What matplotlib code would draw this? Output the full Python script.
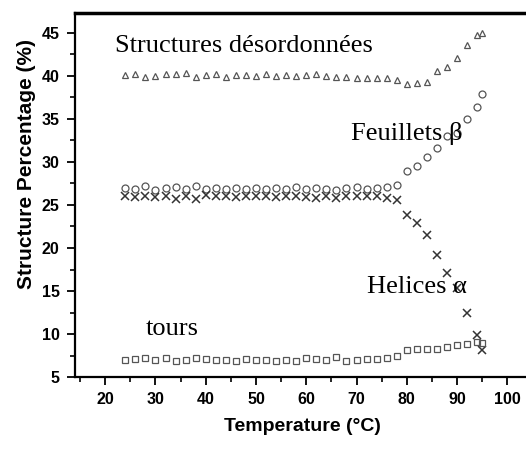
import matplotlib.pyplot as plt
from matplotlib.ticker import MultipleLocator

# temperatures (deg C)
temps = [24, 26, 28, 30, 32, 34, 36, 38, 40, 42, 44, 46, 48, 50, 52, 54, 56, 58,
         60, 62, 64, 66, 68, 70, 72, 74, 76, 78, 80, 82, 84, 86, 88, 90, 92, 94, 95]

# structures desordonnees (triangles)
disordered = [40.1, 40.2, 39.9, 40.0, 40.2, 40.2, 40.3, 39.9, 40.1, 40.2, 39.9, 40.1,
              40.1, 40.0, 40.2, 40.0, 40.1, 40.0, 40.1, 40.2, 40.0, 39.9, 39.9, 39.8,
              39.8, 39.8, 39.7, 39.5, 39.1, 39.2, 39.3, 40.6, 41.0, 42.1, 43.6, 44.8, 45.0]
# feuillets beta (circles)
beta = [27.0, 26.8, 27.2, 26.7, 27.0, 27.1, 26.8, 27.2, 26.9, 27.0, 26.8, 27.0,
        26.9, 27.0, 26.8, 27.0, 26.9, 27.1, 26.9, 27.0, 26.8, 26.7, 27.0, 27.1,
        26.9, 27.0, 27.1, 27.3, 28.9, 29.5, 30.6, 31.6, 33.0, 33.4, 35.0, 36.4, 37.9]
# helices alpha (crosses)
alpha = [26.1, 25.9, 26.0, 25.9, 26.1, 25.7, 26.0, 25.7, 26.2, 26.1, 26.1, 25.9,
         26.0, 26.1, 26.0, 25.9, 26.1, 26.0, 25.9, 25.8, 26.0, 25.8, 26.0, 26.0,
         26.1, 26.1, 25.8, 25.6, 23.8, 22.9, 21.5, 19.2, 17.1, 15.3, 12.4, 9.9, 8.1]
# tours (squares)
turns = [7.0, 7.1, 7.2, 7.0, 7.2, 6.9, 7.0, 7.2, 7.1, 7.0, 7.0, 6.9,
         7.1, 7.0, 7.0, 6.9, 7.0, 6.9, 7.2, 7.1, 7.0, 7.3, 6.9, 7.0,
         7.1, 7.1, 7.2, 7.4, 8.1, 8.3, 8.3, 8.3, 8.5, 8.7, 8.9, 9.1, 9.0]

fig = plt.figure(figsize=(5.26, 4.5), dpi=100)
ax = fig.add_axes([0.1426, 0.162, 0.865, 0.809])

mk = dict(linestyle="none", markersize=5, markerfacecolor="none",
          markeredgecolor="#555555", markeredgewidth=0.9)
ax.plot(temps, disordered, marker="^", **mk)
ax.plot(temps, beta, marker="o", **mk)
ax.plot(temps, alpha, marker="x", linestyle="none", markersize=5.5,
        color="#333333", markeredgewidth=1.1)
ax.plot(temps, turns, marker="s", **mk)

ax.set_xlim(14, 104.5)
ax.set_ylim(5, 47.3)
ax.xaxis.set_major_locator(MultipleLocator(10))
ax.xaxis.set_minor_locator(MultipleLocator(5))
ax.yaxis.set_major_locator(MultipleLocator(5))
ax.yaxis.set_minor_locator(MultipleLocator(2.5))
ax.tick_params(which="major", direction="out", length=6, width=1.3,
               labelsize=11.5, pad=5)
ax.tick_params(which="minor", direction="out", length=3.5, width=1.2)
for lab in ax.get_xticklabels() + ax.get_yticklabels():
    lab.set_fontweight("bold")
    lab.set_family("Liberation Sans")

ax.spines["top"].set_linewidth(2.5)
ax.spines["left"].set_linewidth(1.6)
ax.spines["bottom"].set_linewidth(1.6)
ax.spines["right"].set_visible(False)

ax.set_xlabel("Temperature (\u00b0C)", fontsize=14, fontweight="bold",
              family="Liberation Sans", labelpad=8)
ax.set_ylabel("Structure Percentage (%)", fontsize=15, fontweight="bold",
              family="Liberation Sans")
ax.yaxis.set_label_coords(-0.085, 0.585)

tf = dict(fontsize=19, family="Liberation Serif")
ax.text(22, 42.8, "Structures d\u00e9sordonn\u00e9es", **tf)
ax.text(68.8, 32.6, "Feuillets \u03b2", **tf)
ax.text(72, 14.8, "Helices \u03b1", **tf)
ax.text(28, 9.9, "tours", **tf)

fig.savefig("out.png", dpi=100)
